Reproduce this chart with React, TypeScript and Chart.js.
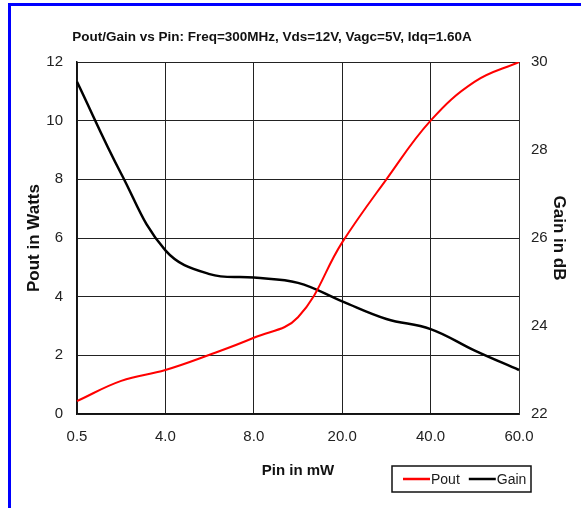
import React, { useEffect, useRef } from "react";
import { Chart, registerables } from "chart.js";

Chart.register(...registerables);

const pinLabels = ["0.5", "2.0", "4.0", "6.0", "8.0", "14.0", "20.0", "30.0", "40.0", "50.0", "60.0"];
const poutWatts = [0.44, 1.13, 1.5, 2.02, 2.6, 3.3, 5.85, 8.0, 10.0, 11.33, 12.0];
const gainDb = [29.55, 27.46, 25.72, 25.18, 25.1, 24.98, 24.56, 24.16, 23.93, 23.44, 23.0];

const titleText = "Pout/Gain vs Pin: Freq=300MHz, Vds=12V, Vagc=5V, Idq=1.60A";
const SANS = "'Liberation Sans', Arial, sans-serif";

const chartTitle = {
  id: "chartTitle",
  afterDraw(chart: any) {
    const { ctx, chartArea } = chart;
    ctx.save();
    ctx.font = "bold 13.5px " + SANS;
    ctx.fillStyle = "#111";
    ctx.textAlign = "center";
    ctx.textBaseline = "middle";
    ctx.fillText(titleText, (chartArea.left + chartArea.right) / 2 - 26, chartArea.top - 25);
    ctx.restore();
  },
};

const boxLegend = {
  id: "boxLegend",
  afterDraw(chart: any) {
    const { ctx, chartArea } = chart;
    const right = chartArea.right + 12;
    const top = chartArea.bottom + 52;
    const w = 139;
    const h = 26;
    const left = right - w;
    const cy = top + h / 2;
    ctx.save();
    ctx.strokeStyle = "#111";
    ctx.lineWidth = 1.5;
    ctx.strokeRect(left, top, w, h);
    ctx.font = "14px " + SANS;
    ctx.textBaseline = "middle";
    ctx.textAlign = "left";
    let x = left + 11;
    chart.data.datasets.forEach((ds: any) => {
      ctx.strokeStyle = ds.borderColor;
      ctx.lineWidth = 2.5;
      ctx.beginPath();
      ctx.moveTo(x, cy);
      ctx.lineTo(x + 27, cy);
      ctx.stroke();
      ctx.fillStyle = "#1a1a1a";
      ctx.fillText(ds.label, x + 28, cy + 1);
      x += 28 + ctx.measureText(ds.label).width + 9;
    });
    ctx.restore();
  },
};

export default function App() {
  const ref = useRef<HTMLCanvasElement | null>(null);

  useEffect(() => {
    if (!ref.current) return;
    const chart = new Chart(ref.current, {
      type: "line",
      data: {
        labels: pinLabels,
        datasets: [
          {
            label: "Pout",
            data: poutWatts,
            borderColor: "#ff0000",
            borderWidth: 2,
            pointRadius: 0,
            tension: 0.4,
            yAxisID: "y",
          },
          {
            label: "Gain",
            data: gainDb,
            borderColor: "#000000",
            borderWidth: 2.5,
            pointRadius: 0,
            tension: 0.4,
            yAxisID: "y1",
          },
        ],
      },
      options: {
        responsive: false,
        animation: false,
        devicePixelRatio: 1,
        layout: { padding: { top: 62, left: 0, right: 0, bottom: 0 } },
        plugins: {
          legend: { display: false },
          tooltip: { enabled: false },
          title: { display: false },
        },
        scales: {
          x: {
            type: "category",
            grid: {
              color: (c: any) => (c.index % 2 === 0 ? "#222" : "rgba(0,0,0,0)"),
              lineWidth: 1,
              drawTicks: false,
            },
            border: { color: "#111", width: 1.5 },
            ticks: {
              autoSkip: false,
              maxRotation: 0,
              color: "#222",
              padding: 14,
              font: { family: SANS, size: 15 },
              callback: function (this: any, v: any, i: number) {
                return i % 2 === 0 ? this.getLabelForValue(v) : "";
              },
            },
            title: {
              display: true,
              text: "Pin in mW",
              color: "#111",
              font: { family: SANS, size: 15, weight: "bold" },
              padding: { top: 4, bottom: 28 },
            },
            afterFit: (s: any) => {
              s.height = 94;
            },
          },
          y: {
            position: "left",
            min: 0,
            max: 12,
            ticks: {
              stepSize: 2,
              color: "#222",
              padding: 14,
              font: { family: SANS, size: 15 },
            },
            grid: { color: "#222", lineWidth: 1, drawTicks: false },
            border: { color: "#111", width: 1.5 },
            title: {
              display: true,
              text: "Pout in Watts",
              color: "#111",
              font: { family: SANS, size: 17, weight: "bold" },
              padding: { top: 24, bottom: 0 },
            },
            afterFit: (s: any) => {
              s.width = 77;
            },
          },
          y1: {
            position: "right",
            min: 22,
            max: 30,
            ticks: {
              stepSize: 2,
              color: "#222",
              padding: 12,
              font: { family: SANS, size: 15 },
            },
            grid: { display: false, drawTicks: false },
            border: { color: "#333", width: 1 },
            title: {
              display: true,
              text: "Gain in dB",
              color: "#111",
              font: { family: SANS, size: 17, weight: "bold" },
              padding: { top: 12, bottom: 0 },
            },
            afterFit: (s: any) => {
              s.width = 62;
            },
          },
        },
      },
      plugins: [chartTitle, boxLegend],
    } as any);
    return () => chart.destroy();
  }, []);

  return (
    <div
      style={{
        position: "fixed",
        left: 0,
        top: 0,
        width: 581,
        height: 508,
        overflow: "hidden",
        background: "#fff",
      }}
    >
      <div
        style={{
          position: "absolute",
          left: 8,
          top: 3,
          width: 700,
          height: 700,
          borderLeft: "3px solid #0000ff",
          borderTop: "3px solid #0000ff",
          boxSizing: "border-box",
        }}
      />
      <canvas
        ref={ref}
        width={581}
        height={508}
        style={{ position: "absolute", left: 0, top: 0, width: 581, height: 508 }}
      />
    </div>
  );
}
